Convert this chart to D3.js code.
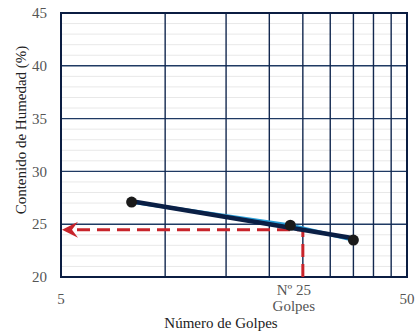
<!DOCTYPE html>
<html><head><meta charset="utf-8">
<script src="https://cdn.jsdelivr.net/npm/d3@7"></script>
<style>body{margin:0;background:#fff}svg{display:block}</style>
</head><body>
<script>
const golpes = [8, 23, 35];
const humedad = [27.1, 24.9, 23.5];
const xTicks = [5, 50];
const xGrid = [10, 15, 20, 25, 30, 35, 40, 45];
const yTicks = [20, 25, 30, 35, 40, 45];
const yMinor = d3.range(21, 45, 1);
const golpesRef = 25;

const W = 417, H = 335;
const m = {l: 61, r: 10, t: 13, b: 58};
const svg = d3.select("body").append("svg").attr("width", W).attr("height", H);
const x = d3.scaleLog().domain([5, 50]).range([m.l, W - m.r]);
const y = d3.scaleLinear().domain([20, 45]).range([H - m.b, m.t]);
const font = "'Liberation Serif', 'DejaVu Serif', serif";
const fs = 15;

// minor grid
svg.append("g").selectAll("line").data(yMinor.filter(v => v % 5 !== 0)).join("line")
  .attr("x1", x(5)).attr("x2", x(50)).attr("y1", d => y(d)).attr("y2", d => y(d))
  .attr("stroke", "#e8e8e8").attr("stroke-width", 1);
// major horizontal
svg.append("g").selectAll("line").data(yTicks.filter(v => v > 20 && v < 45)).join("line")
  .attr("x1", x(5)).attr("x2", x(50)).attr("y1", d => y(d)).attr("y2", d => y(d))
  .attr("stroke", "#1f3a63").attr("stroke-width", 1.4);
// vertical grid
svg.append("g").selectAll("line").data(xGrid).join("line")
  .attr("x1", d => x(d)).attr("x2", d => x(d)).attr("y1", y(20)).attr("y2", y(45))
  .attr("stroke", "#12284f").attr("stroke-width", 1.4);
// frame
svg.append("rect").attr("x", x(5)).attr("y", y(45)).attr("width", x(50) - x(5)).attr("height", y(20) - y(45))
  .attr("fill", "none").attr("stroke", "#0b1d42").attr("stroke-width", 2);

// regression in log space
const lx = golpes.map(Math.log10);
const mx = d3.mean(lx), my = d3.mean(humedad);
const slope = d3.sum(lx, (v, i) => (v - mx) * (humedad[i] - my)) / d3.sum(lx, v => (v - mx) ** 2);
const fit = g => my + slope * (Math.log10(g) - mx);
const h25 = fit(golpesRef);

// red dashed reference
const red = "#c8242b";
svg.append("path")
  .attr("d", d3.line()([[x(golpesRef), y(20)], [x(golpesRef), y(h25)], [x(5) + 8, y(h25)]]))
  .attr("fill", "none").attr("stroke", red).attr("stroke-width", 3)
  .attr("stroke-dasharray", "13,7");
const tx = x(5) + 1, ty = y(h25);
svg.append("path")
  .attr("d", `M${tx},${ty} L${tx + 16},${ty - 8} L${tx + 10},${ty} L${tx + 16},${ty + 8} Z`)
  .attr("fill", red);

// data line (light blue)
const line = d3.line().x(d => x(d[0])).y(d => y(d[1]));
svg.append("path").attr("d", line(golpes.map((g, i) => [g, humedad[i]])))
  .attr("fill", "none").attr("stroke", "#2a9fd8").attr("stroke-width", 3.5);
// trend line (dark)
svg.append("path").attr("d", line([[golpes[0], fit(golpes[0])], [golpes[2], fit(golpes[2])]]))
  .attr("fill", "none").attr("stroke", "#0a1f45").attr("stroke-width", 4.5);
// points
svg.append("g").selectAll("circle").data(golpes).join("circle")
  .attr("cx", d => x(d)).attr("cy", (d, i) => y(humedad[i])).attr("r", 5.5).attr("fill", "#1a1a1a");

// y tick labels
svg.append("g").selectAll("text").data(yTicks).join("text")
  .attr("x", 47).attr("y", d => y(d)).attr("dy", "0.35em").attr("text-anchor", "end")
  .attr("font-family", font).attr("font-size", fs).attr("fill", "#555").text(d => d);
// x tick labels
svg.append("g").selectAll("text").data(xTicks).join("text")
  .attr("x", d => x(d)).attr("y", 304).attr("text-anchor", "middle")
  .attr("font-family", font).attr("font-size", fs).attr("fill", "#555").text(d => d);
svg.append("text").attr("x", x(golpesRef) - 9).attr("y", 295).attr("text-anchor", "middle")
  .attr("font-family", font).attr("font-size", fs).attr("fill", "#555").text("Nº " + golpesRef);
svg.append("text").attr("x", x(golpesRef) - 9).attr("y", 311).attr("text-anchor", "middle")
  .attr("font-family", font).attr("font-size", fs).attr("fill", "#555").text("Golpes");
svg.append("text").attr("x", 221).attr("y", 328).attr("text-anchor", "middle")
  .attr("font-family", font).attr("font-size", fs).attr("fill", "#222").text("Número de Golpes");
svg.append("text").attr("transform", "translate(26,130) rotate(-90)").attr("text-anchor", "middle")
  .attr("font-family", font).attr("font-size", fs).attr("fill", "#222").text("Contenido de Humedad (%)");
</script>
</body></html>
